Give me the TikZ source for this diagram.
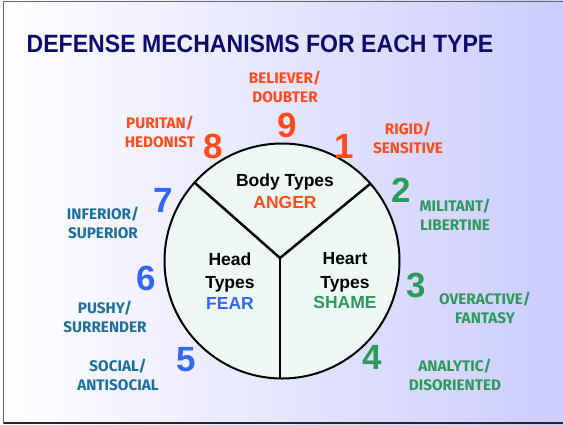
\documentclass[tikz,border=0pt]{standalone}
\usepackage{fontspec}
\setmainfont{Liberation Sans}
\newfontfamily\labfont{Fira Sans}
\definecolor{bgR}{RGB}{204,204,255}
\definecolor{navy}{RGB}{12,12,110}
\definecolor{orng}{RGB}{255,76,24}
\definecolor{grn}{RGB}{46,154,90}
\definecolor{blu}{RGB}{51,102,255}
\definecolor{tealb}{RGB}{28,112,160}
\definecolor{mint}{RGB}{240,248,246}
\tikzset{
  numtxt/.style={font=\fontsize{35}{35}\selectfont\bfseries, inner sep=0pt},
  labtxt/.style={font=\labfont\fontsize{15.3}{18.5}\selectfont\bfseries, align=center, inner sep=0pt},
  intxt/.style={font=\fontsize{17.5}{23.5}\selectfont\bfseries, align=center, inner sep=0pt},
}
\begin{document}
\begin{tikzpicture}[x=1pt,y=-1pt]
\useasboundingbox (0,0) rectangle (563,424);
\shade[left color=white,right color=bgR] (0,0) rectangle (563,424);
\draw[gray!80!black,line width=1pt] (3.5,424) -- (3.5,1) -- (563,1);
\draw[black!85,line width=1.5pt] (3.5,423) -- (563,423);
\node[font=\fontsize{25}{25}\selectfont\bfseries, text=navy, inner sep=0pt] (title) at (260,44) {\scalebox{0.923}[1]{DEFENSE MECHANISMS FOR EACH TYPE}};
% circle
\node[circle, draw=black, line width=2pt, fill=mint, minimum size=235pt, inner sep=0pt] (c) at (282,261) {};
\coordinate (j) at (280,258);
\coordinate (ul) at (195,183);
\coordinate (ur) at (370,184);
\coordinate (bt) at (280,378);
\draw[line width=2.5pt] (ul) -- (j) -- (ur);
\draw[line width=2.5pt] (j) -- (bt);
% inner text
\node[intxt] (body) at (285,191) {Body Types\\[-1pt]\textcolor{orng}{ANGER}};
\node[intxt] (head) at (230,281) {Head\\Types\\[-3pt]\textcolor{blu}{FEAR}};
\node[intxt] (heart) at (345,281) {Heart\\Types\\[-3pt]\textcolor{grn}{SHAME}};
% numbers
\node[numtxt,text=orng] (n9) at (287,125) {9};
\node[numtxt,text=orng] (n8) at (213,146) {8};
\node[numtxt,text=orng] (n1) at (344,146) {1};
\node[numtxt,text=grn] (n2) at (401,190) {2};
\node[numtxt,text=grn] (n3) at (416,285) {3};
\node[numtxt,text=grn] (n4) at (372,357) {4};
\node[numtxt,text=blu] (n5) at (186,360) {5};
\node[numtxt,text=blu] (n6) at (146,278) {6};
\node[numtxt,text=blu] (n7) at (163,200) {7};
% labels
\node[labtxt,text=orng] (l9) at (285,87) {BELIEVER/\\DOUBTER};
\node[labtxt,text=orng] (l8) at (160,132) {PURITAN/\\HEDONIST};
\node[labtxt,text=orng] (l1) at (408,138) {RIGID/\\SENSITIVE};
\node[labtxt,text=grn] (l2) at (455,215) {MILITANT/\\LIBERTINE};
\node[labtxt,text=grn] (l3) at (485,308) {OVERACTIVE/\\FANTASY};
\node[labtxt,text=grn] (l4) at (455,375) {ANALYTIC/\\DISORIENTED};
\node[labtxt,text=tealb] (l5) at (118,375) {SOCIAL/\\ANTISOCIAL};
\node[labtxt,text=tealb] (l6) at (105,317) {PUSHY/\\SURRENDER};
\node[labtxt,text=tealb] (l7) at (103,223) {INFERIOR/\\SUPERIOR};
\end{tikzpicture}
\end{document}
